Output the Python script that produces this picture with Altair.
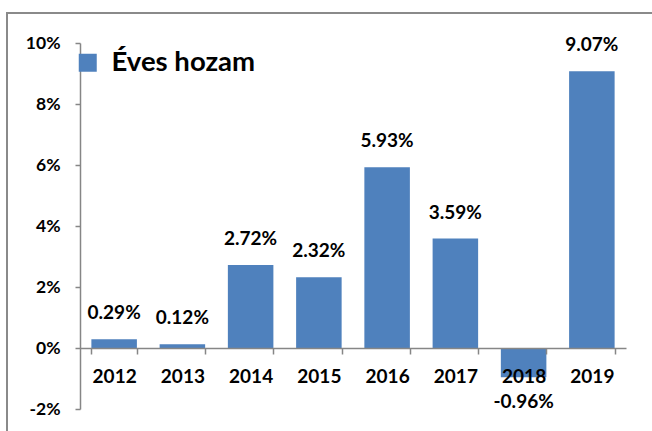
import altair as alt
import pandas as pd

years = ["2012", "2013", "2014", "2015", "2016", "2017", "2018", "2019"]
values = [0.29, 0.12, 2.72, 2.32, 5.93, 3.59, -0.96, 9.07]
series_name = "Éves hozam"
y_ticks = [-2, 0, 2, 4, 6, 8, 10]

df = pd.DataFrame({"year": years, "value": values, "series": [series_name] * len(years)})

FONT = "Lato"
BAR = "#4F81BD"
GRAY = "#868686"
LABEL_EXPR = "(datum.value < 0 ? '-' : '') + format(abs(datum.value), '.2f') + '%'"

base = alt.Chart(df).encode(
    x=alt.X(
        "year:N",
        sort=years,
        scale=alt.Scale(paddingInner=0.333, paddingOuter=0.1667),
        axis=alt.Axis(
            title=None, labelAngle=0, tickBand="extent", offset=-61, zindex=1,
            domainColor=GRAY, tickColor=GRAY, tickSize=6, domainWidth=1.5, tickWidth=1.5,
            labelPadding=28, labelBaseline="alphabetic", labelFont=FONT,
            labelFontSize=19, labelFontWeight="bold", labelColor="black", grid=False,
        ),
    ),
    y=alt.Y(
        "value:Q",
        scale=alt.Scale(domain=[-2, 10], nice=False, zero=False),
        axis=alt.Axis(
            title=None, values=y_ticks, labelExpr="datum.value + '%'", grid=False,
            domainColor=GRAY, tickColor=GRAY, tickSize=5, domainWidth=1.5, tickWidth=1.5,
            labelPadding=15, labelFont=FONT, labelFontSize=17.5, labelFontWeight="bold",
            labelColor="black",
        ),
    ),
)

bars = base.mark_bar(color=BAR).encode(
    color=alt.Color(
        "series:N",
        scale=alt.Scale(range=[BAR]),
        legend=alt.Legend(
            title=None, orient="none", legendX=-6, legendY=6, padding=0,
            symbolType="square", symbolSize=324, symbolStrokeWidth=0,
            symbolOffset=0, labelOffset=10, labelFont=FONT, labelFontSize=27.5,
            labelFontWeight="bold", labelColor="black", labelLimit=400,
        ),
    )
)

pos_labels = base.transform_filter("datum.value >= 0").transform_calculate(
    lbl=LABEL_EXPR
).mark_text(
    font=FONT, fontSize=19, fontWeight="bold", color="black",
    baseline="alphabetic", dy=-20,
).encode(text="lbl:N")

neg_labels = base.transform_filter("datum.value < 0").transform_calculate(
    lbl=LABEL_EXPR
).mark_text(
    font=FONT, fontSize=19, fontWeight="bold", color="black",
    baseline="alphabetic", dy=31,
).encode(text="lbl:N")

border = alt.Chart(alt.Data(values=[{"b": 1}])).mark_rect(
    fill=None, stroke="#8A8A8A", strokeWidth=2
).encode(
    x=alt.value(-73), y=alt.value(-30), x2=alt.value(600), y2=alt.value(420)
)

chart = alt.layer(border, bars, pos_labels, neg_labels).properties(
    width=546, height=366,
    autosize=alt.AutoSizeParams(type="none"),
    padding={"left": 80, "top": 43, "right": 26, "bottom": 22},
    background="white",
).configure_view(stroke=None)

chart.save("out.html", embed_options={"renderer": "svg", "actions": False})
